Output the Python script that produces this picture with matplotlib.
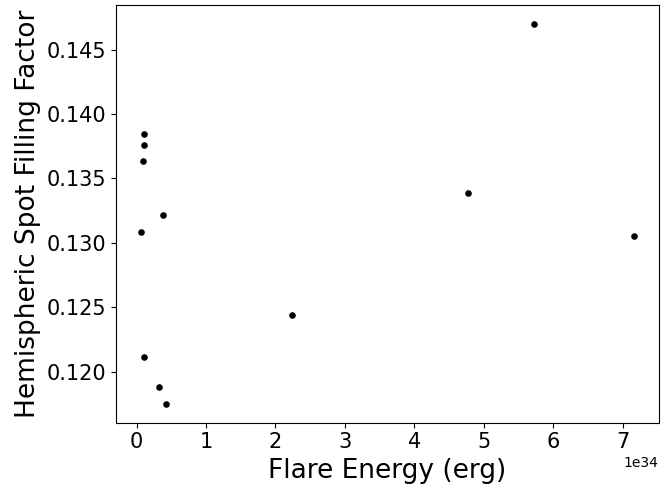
import matplotlib
matplotlib.use('Agg')
import matplotlib.pyplot as plt

# flare energies (units of 1e34 erg) and spot filling factors
energia = [5.72, 0.106, 0.106, 0.09, 4.77, 0.38, 0.06, 7.165, 2.24, 0.106, 0.32, 0.42]
relleno = [0.1470, 0.13843, 0.1376, 0.13636, 0.13386, 0.13212, 0.1308, 0.13054,
           0.12439, 0.12114, 0.11883, 0.11751]

energia_erg = [e * 1e34 for e in energia]

fig = plt.figure(figsize=(6.61, 4.88), dpi=100)
ax = fig.add_axes([0.1755, 0.134, 0.821, 0.856])
ax.scatter(energia_erg, relleno, s=14, color='black')
ax.set_xlabel('Flare Energy (erg)', fontsize=19)
ax.set_ylabel('Hemispheric Spot Filling Factor', fontsize=19)
ax.tick_params(labelsize=15)

fig.savefig('out.png', dpi=100)
